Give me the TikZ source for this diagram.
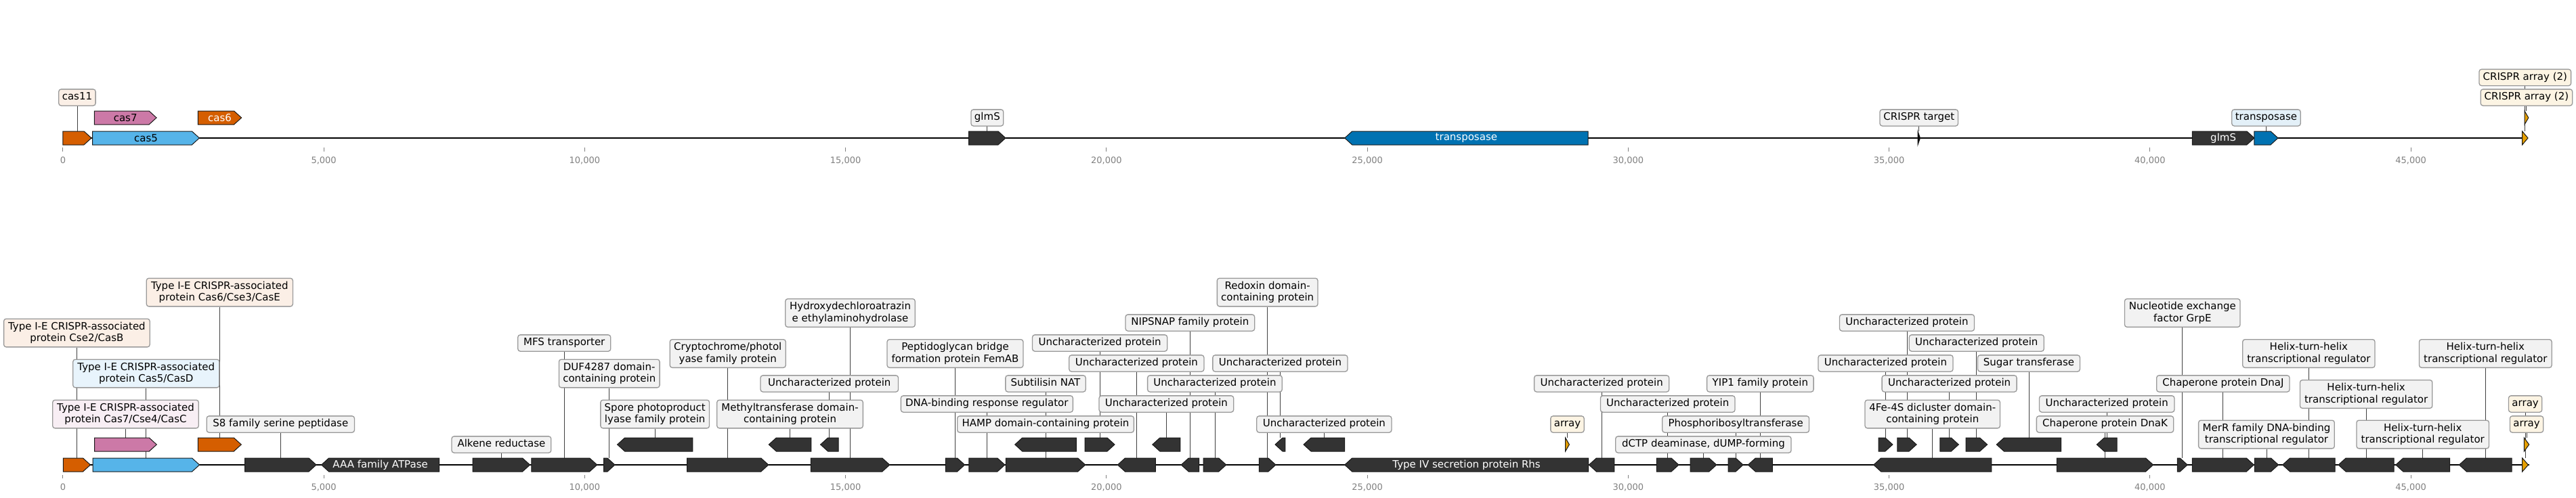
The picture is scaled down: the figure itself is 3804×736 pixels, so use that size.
\documentclass[tikz,border=0pt]{standalone}
\usepackage{fontspec}
\setmainfont{DejaVu Sans}
\pgfdeclarelayer{bg}
\pgfsetlayers{bg,main}
\definecolor{corange}{HTML}{D55E00}
\definecolor{csky}{HTML}{56B4E9}
\definecolor{cpink}{HTML}{CC79A7}
\definecolor{cblue}{HTML}{0072B2}
\definecolor{cdark}{HTML}{333333}
\definecolor{carray}{HTML}{E69F00}
\definecolor{lgrey}{HTML}{F2F2F2}
\definecolor{lorange}{HTML}{FBEFE6}
\definecolor{lsky}{HTML}{E8F4FC}
\definecolor{lpink}{HTML}{F8EEF4}
\definecolor{lblue}{HTML}{E3F0F8}
\definecolor{larray}{HTML}{FCF4E3}
\definecolor{boxedge}{HTML}{999999}
\definecolor{tickgrey}{HTML}{808080}
\tikzset{
  featline/.style={draw=black!90, line width=1pt, line join=miter},
  fnode/.style={inner sep=0pt, minimum height=20pt, font=\fontsize{15}{17.5}\selectfont},
  lbox/.style={draw=boxedge, line width=1.3pt, rounded corners=3.5pt, inner xsep=5pt, inner ysep=0pt,
    minimum height=24.3pt, align=center, text height=11.4pt, text depth=3.6pt,
    font=\fontsize{15}{17.5}\selectfont},
  tall/.style={minimum height=41.7pt, text height=, text depth=},
  conn/.style={draw=black!75, line width=0.9pt},
  backbone/.style={draw=black, line width=2.5pt},
  tickline/.style={draw=tickgrey, line width=0.9pt},
  ticklab/.style={text=tickgrey, font=\fontsize{13}{15}\selectfont, inner sep=0pt, anchor=base},
}
% forward feature: name, x1, x2, y, fill, text
\newcommand\gfwd[6]{%
  \pgfmathsetmacro\ghl{min(11,(#3)-(#2))}%
  \draw[featline,fill=#5] (#2,#4-10) -- ({#3-\ghl},#4-10) -- (#3,#4) -- ({#3-\ghl},#4+10) -- (#2,#4+10) -- cycle;
  \node[fnode,minimum width={(#3)-(#2)}] (#1) at ({(#2+#3)/2},#4) {#6};
}
% reverse feature
\newcommand\grev[6]{%
  \pgfmathsetmacro\ghl{min(11,(#3)-(#2))}%
  \draw[featline,fill=#5] (#3,#4-10) -- ({#2+\ghl},#4-10) -- (#2,#4) -- ({#2+\ghl},#4+10) -- (#3,#4+10) -- cycle;
  \node[fnode,minimum width={(#3)-(#2)}] (#1) at ({(#2+#3)/2},#4) {#6};
}
% label: [opt] name, feature, y, width, fill, text
\newcommand\glab[7][]{%
  \node[lbox,fill=#6,minimum width=#5,#1] (#2) at (#3.center |- 0,#4) {#7};
  \begin{pgfonlayer}{bg}\draw[conn] (#2.south) -- (#3.north);\end{pgfonlayer}
}
\begin{document}
\begin{tikzpicture}[x=1pt,y=-1pt]
\useasboundingbox (0,0) rectangle (3804,736);

% ---------- axes ----------
\foreach \k in {0,...,9} {
  \pgfmathsetmacro\tx{92.9+385.25*\k}
  \pgfmathtruncatemacro\tv{5*\k}
  \draw[tickline] (\tx,218) -- (\tx,223.5);
  \draw[tickline] (\tx,702) -- (\tx,707);
  \node[ticklab] (tt\k) at (\tx,241.4) {\ifnum\k=0 0\else\tv,000\fi};
  \node[ticklab] (bt\k) at (\tx,724) {\ifnum\k=0 0\else\tv,000\fi};
}

% ---------- top track ----------
\draw[backbone] (92.9,204) -- (3733,204);
\gfwd{t1}{92.9}{135}{204}{corange}{}
\gfwd{t2}{136.7}{294.4}{204}{csky}{cas5}
\gfwd{t3}{139.3}{231.1}{174}{cpink}{cas7}
\gfwd{t4}{292.3}{356.6}{174}{corange}{\color{white}cas6}
\gfwd{t5}{1430.7}{1485}{204}{cdark}{}
\grev{t6}{1985.7}{2345}{204}{cblue}{\color{white}transposase}
\gfwd{t7}{2832}{2835.5}{204}{black}{}
\gfwd{t8}{3237.3}{3328.9}{204}{cdark}{\color{white}glmS}
\gfwd{t9}{3328.9}{3364}{204}{cblue}{}
\gfwd{t10}{3724.6}{3733}{204}{carray}{}
\gfwd{t11}{3728}{3733.8}{174}{carray}{}

\glab{tl1}{t1}{144}{53.1}{lorange}{cas11}
\glab{tl5}{t5}{174}{47.8}{lgrey}{glmS}
\glab{tl7}{t7}{174}{115.5}{lgrey}{CRISPR target}
\glab{tl9}{t9}{174}{101.4}{lblue}{transposase}
\glab{tl10}{t10}{114.5}{135.6}{larray}{CRISPR array (2)}
\glab{tl11}{t11}{144}{135.5}{larray}{CRISPR array (2)}

% ---------- bottom track ----------
\draw[backbone] (92.9,687) -- (3734.7,687);
\gfwd{b1}{93.3}{133.5}{687}{corange}{}
\gfwd{b2}{137}{294.6}{687}{csky}{}
\gfwd{b3}{139.7}{231.3}{657}{cpink}{}
\gfwd{b4}{292.4}{356.3}{657}{corange}{}
\gfwd{b5}{361.6}{467}{687}{cdark}{}
\grev{b6}{474.6}{648.7}{687}{cdark}{\color{white}AAA family ATPase}
\gfwd{b7}{698.2}{782.6}{687}{cdark}{}
\gfwd{b8}{784.8}{881.7}{687}{cdark}{}
\gfwd{b9}{891.5}{908}{687}{cdark}{}
\grev{b10}{911.6}{1022.8}{657}{cdark}{}
\gfwd{b11}{1014.7}{1134.8}{687}{cdark}{}
\grev{b12}{1135.3}{1197.8}{657}{cdark}{}
\grev{b13}{1211.6}{1238}{657}{cdark}{}
\gfwd{b14}{1197.3}{1313.8}{687}{cdark}{}
\gfwd{b15}{1396.4}{1424.6}{687}{cdark}{}
\gfwd{b16}{1430.8}{1483.9}{687}{cdark}{}
\gfwd{b17}{1485.3}{1602.7}{687}{cdark}{}
\grev{b18}{1498.7}{1589.3}{657}{cdark}{}
\gfwd{b19}{1602.2}{1646}{657}{cdark}{}
\grev{b20}{1650.4}{1706.3}{687}{cdark}{}
\grev{b21}{1701.8}{1742.9}{657}{cdark}{}
\grev{b22}{1744.2}{1770.5}{687}{cdark}{}
\gfwd{b23}{1777.2}{1810.7}{687}{cdark}{}
\gfwd{b24}{1859.4}{1883.9}{687}{cdark}{}
\grev{b25}{1883}{1897.8}{657}{cdark}{}
\grev{b26}{1925}{1985.7}{657}{cdark}{}
\grev{b27}{1985.7}{2345.5}{687}{cdark}{\color{white}Type IV secretion protein Rhs}
\gfwd{b28}{2311.6}{2317.4}{657}{carray}{}
\grev{b29}{2346.4}{2383.9}{687}{cdark}{}
\gfwd{b30}{2446.4}{2479}{687}{cdark}{}
\gfwd{b31}{2496}{2534.8}{687}{cdark}{}
\gfwd{b32}{2552.2}{2574.1}{687}{cdark}{}
\grev{b33}{2581.3}{2617.4}{687}{cdark}{}
\grev{b34}{2766.7}{2940.8}{687}{cdark}{}
\gfwd{b35}{2774.1}{2794.9}{657}{cdark}{}
\gfwd{b36}{2801.9}{2830.1}{657}{cdark}{}
\gfwd{b37}{2864.9}{2892.3}{657}{cdark}{}
\gfwd{b38}{2903}{2934.6}{657}{cdark}{}
\grev{b39}{2948.3}{3043.6}{657}{cdark}{}
\gfwd{b40}{3037.4}{3179.6}{687}{cdark}{}
\grev{b41}{3096.3}{3126.1}{657}{cdark}{}
\gfwd{b42}{3215.3}{3230.2}{687}{cdark}{}
\gfwd{b43}{3237.4}{3328.3}{687}{cdark}{}
\gfwd{b44}{3329.4}{3364.5}{687}{cdark}{}
\grev{b45}{3370.6}{3448.1}{687}{cdark}{}
\grev{b46}{3453.1}{3535.1}{687}{cdark}{}
\grev{b47}{3537.8}{3617.6}{687}{cdark}{}
\grev{b48}{3631.4}{3709.2}{687}{cdark}{}
\gfwd{b49}{3724.7}{3733.5}{687}{carray}{}
\gfwd{b50}{3727.4}{3734.7}{657}{carray}{}

\glab[tall]{lb1}{b1}{492}{215.6}{lorange}{Type I-E CRISPR-associated\\protein Cse2/CasB}
\glab[tall]{lb2}{b2}{552}{216.1}{lsky}{Type I-E CRISPR-associated\\protein Cas5/CasD}
\glab[tall]{lb3}{b3}{612}{215.6}{lpink}{Type I-E CRISPR-associated\\protein Cas7/Cse4/CasC}
\glab[tall]{lb4}{b4}{432}{216.1}{lorange}{Type I-E CRISPR-associated\\protein Cas6/Cse3/CasE}
\glab{lb5}{b5}{627}{218.3}{lgrey}{S8 family serine peptidase}
\glab{lb7}{b7}{657}{146.8}{lgrey}{Alkene reductase}
\glab{lb8}{b8}{507}{137}{lgrey}{MFS transporter}
\glab[tall]{lb9}{b9}{552}{148.7}{lgrey}{DUF4287 domain-\\containing protein}
\glab[tall]{lb10}{b10}{612}{160.7}{lgrey}{Spore photoproduct\\lyase family protein}
\glab[tall]{lb11}{b11}{522.5}{171}{lgrey}{Cryptochrome/photol\\yase family protein}
\glab[tall]{lb12}{b12}{612}{215.6}{lgrey}{Methyltransferase domain-\\containing protein}
\glab{lb13}{b13}{567}{203.5}{lgrey}{Uncharacterized protein}
\glab[tall]{lb14}{b14}{462.5}{191.5}{lgrey}{Hydroxydechloroatrazin\\e ethylaminohydrolase}
\glab[tall]{lb15}{b15}{522.5}{200.9}{lgrey}{Peptidoglycan bridge\\formation protein FemAB}
\glab{lb16}{b16}{597}{254}{lgrey}{DNA-binding response regulator}
\glab{lb17}{b17}{627}{260.7}{lgrey}{HAMP domain-containing protein}
\glab{lb18}{b18}{567}{118.3}{lgrey}{Subtilisin NAT}
\glab{lb19}{b19}{507}{199.1}{lgrey}{Uncharacterized protein}
\glab{lb20}{b20}{537}{199.1}{lgrey}{Uncharacterized protein}
\glab{lb21}{b21}{597}{198.6}{lgrey}{Uncharacterized protein}
\glab{lb22}{b22}{477}{190.6}{lgrey}{NIPSNAP family protein}
\glab{lb23}{b23}{567}{198.7}{lgrey}{Uncharacterized protein}
\glab[tall]{lb24}{b24}{432}{148.6}{lgrey}{Redoxin domain-\\containing protein}
\glab{lb25}{b25}{537}{199.1}{lgrey}{Uncharacterized protein}
\glab{lb26}{b26}{627}{199.1}{lgrey}{Uncharacterized protein}
\glab{lb28}{b28}{627}{49.1}{larray}{array}
\glab{lb29}{b29}{567}{199.1}{lgrey}{Uncharacterized protein}
\glab{lb30}{b30}{597}{198.6}{lgrey}{Uncharacterized protein}
\glab{lb31}{b31}{657}{259.3}{lgrey}{dCTP deaminase, dUMP-forming}
\glab{lb32}{b32}{627}{216.8}{lgrey}{Phosphoribosyltransferase}
\glab{lb33}{b33}{567}{157.5}{lgrey}{YIP1 family protein}
\glab[tall]{lb34}{b34}{612}{199.4}{lgrey}{4Fe-4S dicluster domain-\\containing protein}
\glab{lb35}{b35}{537}{199}{lgrey}{Uncharacterized protein}
\glab{lb36}{b36}{477}{199}{lgrey}{Uncharacterized protein}
\glab{lb37}{b37}{567}{199}{lgrey}{Uncharacterized protein}
\glab{lb38}{b38}{507}{199}{lgrey}{Uncharacterized protein}
\glab{lb39}{b39}{537}{150.9}{lgrey}{Sugar transferase}
\glab{lb40}{b40}{627}{202.3}{lgrey}{Chaperone protein DnaK}
\glab{lb41}{b41}{597}{199.4}{lgrey}{Uncharacterized protein}
\glab[tall]{lb42}{b42}{462.5}{170.6}{lgrey}{Nucleotide exchange\\factor GrpE}
\glab{lb43}{b43}{567}{196.4}{lgrey}{Chaperone protein DnaJ}
\glab[tall]{lb44}{b44}{642}{200.7}{lgrey}{MerR family DNA-binding\\transcriptional regulator}
\glab[tall]{lb45}{b45}{522.5}{195.3}{lgrey}{Helix-turn-helix\\transcriptional regulator}
\glab[tall]{lb46}{b46}{582.5}{195.4}{lgrey}{Helix-turn-helix\\transcriptional regulator}
\glab[tall]{lb47}{b47}{642}{195.6}{lgrey}{Helix-turn-helix\\transcriptional regulator}
\glab[tall]{lb48}{b48}{522.5}{195.7}{lgrey}{Helix-turn-helix\\transcriptional regulator}
\glab{lb49}{b49}{597}{49.3}{larray}{array}
\glab{lb50}{b50}{627}{49.3}{larray}{array}
\end{tikzpicture}
\end{document}
